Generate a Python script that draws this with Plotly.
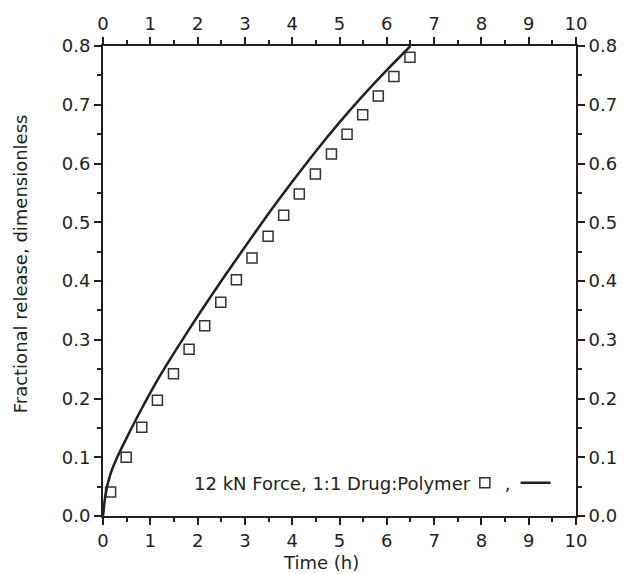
import plotly.graph_objects as go

# Measured data (squares)
time_h = [0.16, 0.49, 0.82, 1.15, 1.49, 1.82, 2.15, 2.49, 2.82, 3.15,
          3.49, 3.82, 4.15, 4.49, 4.83, 5.16, 5.49, 5.82, 6.15, 6.49]
release = [0.041, 0.100, 0.151, 0.197, 0.242, 0.284, 0.324, 0.364, 0.402, 0.439,
           0.476, 0.512, 0.548, 0.582, 0.616, 0.650, 0.683, 0.715, 0.748, 0.781]

# Model curve (solid line)
model_t = [0, 0.05, 0.16, 0.3, 0.5, 0.8, 1.2, 1.6, 2.0, 2.5, 3.0,
           3.5, 4.0, 4.5, 5.0, 5.5, 6.0, 6.5]
model_y = [0, 0.035, 0.072, 0.100, 0.133, 0.180, 0.238, 0.290, 0.340, 0.400, 0.458,
           0.515, 0.569, 0.621, 0.670, 0.716, 0.759, 0.800]

legend_text = "12 kN Force, 1:1 Drug:Polymer"
x_title = "Time (h)"
y_title = "Fractional release, dimensionless"

FONT = "DejaVu Sans"
INK = "#231f20"
FS = 18

fig = go.Figure()
fig.add_trace(go.Scatter(
    x=time_h, y=release, mode="markers", name=",",
    marker=dict(symbol="square-open", size=10, color="#333333",
                line=dict(width=1.5, color="#333333")),
))
fig.add_trace(go.Scatter(
    x=model_t, y=model_y, mode="lines", name=" ",
    line=dict(color=INK, width=2.5, shape="spline", smoothing=0.5),
))
# invisible trace to activate the mirrored (top / right) axes
fig.add_trace(go.Scatter(
    x=time_h, y=release, mode="markers", xaxis="x2", yaxis="y2",
    marker=dict(opacity=0), showlegend=False, hoverinfo="skip",
))

common = dict(
    showline=True, linecolor=INK, linewidth=2, ticks="outside",
    ticklen=7, tickwidth=1.5, tickcolor=INK, showgrid=False, zeroline=False,
    tickfont=dict(family=FONT, size=FS, color=INK),
)
minor_x = dict(ticks="outside", ticklen=4, dtick=0.5, tickcolor=INK, tickwidth=1.5)
minor_y = dict(ticks="outside", ticklen=4, dtick=0.05, tickcolor=INK, tickwidth=1.5)
tfont = dict(family=FONT, size=FS, color=INK)

fig.update_layout(
    width=624, height=574,
    margin=dict(l=103, r=48, t=46, b=58, autoexpand=False),
    paper_bgcolor="white", plot_bgcolor="white",
    font=tfont,
    xaxis=dict(range=[0, 10], dtick=1, tick0=0, minor=minor_x, **common),
    yaxis=dict(range=[0, 0.8], dtick=0.1, tick0=0, tickformat=".1f", minor=minor_y, **common),
    xaxis2=dict(range=[0, 10], dtick=1, tick0=0, overlaying="x", side="top",
                minor=minor_x, **common),
    yaxis2=dict(range=[0, 0.8], dtick=0.1, tick0=0, tickformat=".1f",
                overlaying="y", side="right", minor=minor_y, **common),
    showlegend=True,
    legend=dict(orientation="h", x=0.765, y=0.070, xanchor="left", yanchor="middle",
                bgcolor="rgba(0,0,0,0)", font=tfont,
                itemwidth=30, tracegroupgap=0),
    annotations=[
        dict(text=legend_text, xref="paper", yref="paper",
             x=0.782, y=0.070, xanchor="right", yanchor="middle",
             showarrow=False, font=tfont),
        dict(text=x_title, xref="paper", yref="paper",
             x=0.461, y=-0.098, xanchor="center", yanchor="middle",
             showarrow=False, font=tfont),
        dict(text=y_title, xref="paper", yref="paper", textangle=-90,
             x=-0.175, y=0.536, xanchor="center", yanchor="middle",
             showarrow=False, font=tfont),
    ],
)

fig.write_html("out.html", config={"displayModeBar": False},
               post_script="document.body.style.margin='0px';")
